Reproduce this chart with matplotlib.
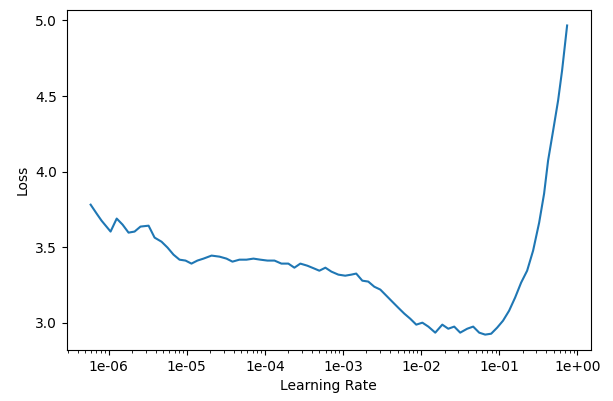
import matplotlib
matplotlib.use("Agg")
import matplotlib.pyplot as plt
from matplotlib.ticker import FuncFormatter, NullFormatter, LogLocator

# === 数据：学习率 与 对应 loss===
lrs = [
    5.89e-7, 7.03e-7, 8.13e-7, 1.06e-6, 1.27e-6, 1.51e-6, 1.80e-6, 2.15e-6,
    2.56e-6, 3.25e-6, 3.88e-6, 4.76e-6, 5.68e-6, 6.78e-6, 8.09e-6, 9.66e-6,
    1.15e-5, 1.37e-5, 1.64e-5, 2.08e-5, 2.63e-5, 3.23e-5, 3.85e-5, 4.73e-5,
    5.82e-5, 7.15e-5, 8.78e-5, 1.08e-4, 1.33e-4, 1.63e-4, 2.00e-4, 2.39e-4,
    2.85e-4, 3.51e-4, 4.31e-4, 4.99e-4, 5.96e-4, 7.11e-4, 8.73e-4, 1.07e-3,
    1.28e-3, 1.48e-3, 1.77e-3, 2.11e-3, 2.52e-3, 3.01e-3, 3.59e-3, 4.28e-3,
    5.11e-3, 6.10e-3, 7.28e-3, 8.68e-3, 1.04e-2, 1.24e-2, 1.52e-2, 1.87e-2,
    2.23e-2, 2.66e-2, 3.17e-2, 3.90e-2, 4.65e-2, 5.55e-2, 6.62e-2, 7.90e-2,
    9.42e-2, 0.112, 0.134, 0.160, 0.191, 0.228, 0.272, 0.325,
    0.376, 0.423, 0.491, 0.568, 0.639, 0.741,
]
losses = [
    3.781, 3.722, 3.675, 3.603, 3.689, 3.649, 3.596, 3.603,
    3.636, 3.642, 3.563, 3.536, 3.497, 3.450, 3.417, 3.411,
    3.391, 3.411, 3.424, 3.444, 3.437, 3.424, 3.404, 3.417,
    3.417, 3.424, 3.417, 3.411, 3.411, 3.391, 3.391, 3.364,
    3.391, 3.377, 3.358, 3.344, 3.364, 3.338, 3.318, 3.311,
    3.318, 3.325, 3.278, 3.272, 3.238, 3.219, 3.179, 3.139,
    3.099, 3.060, 3.026, 2.987, 3.000, 2.974, 2.934, 2.987,
    2.960, 2.974, 2.934, 2.960, 2.974, 2.934, 2.921, 2.927,
    2.967, 3.013, 3.079, 3.166, 3.265, 3.344, 3.477, 3.662,
    3.854, 4.073, 4.272, 4.470, 4.669, 4.967,
]

# === 绘图 ===
fig = plt.figure(figsize=(6.13, 4.01), dpi=100)
ax = fig.add_axes([0.109, 0.127, 0.855, 0.848])
ax.plot(lrs, losses, color="tab:blue", linewidth=1.5)

ax.set_xscale("log")
ax.xaxis.set_major_locator(LogLocator(base=10, numticks=12))
ax.xaxis.set_major_formatter(FuncFormatter(lambda v, pos: f"{v:.0e}"))
ax.xaxis.set_minor_formatter(NullFormatter())

ax.set_xlabel("Learning Rate")
ax.set_ylabel("Loss")

plt.savefig("out.png", dpi=100)
